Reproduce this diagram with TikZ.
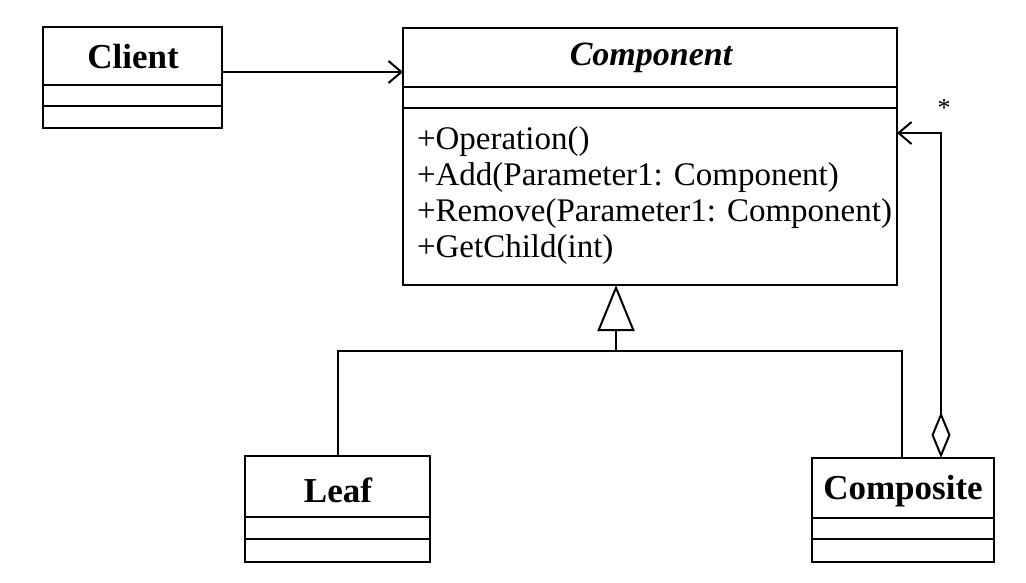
\documentclass[tikz,border=0pt]{standalone}
\usepackage{fontspec}
\setmainfont{Liberation Serif}
\usetikzlibrary{arrows.meta}
\begin{document}
\begin{tikzpicture}[x=1pt,y=-1pt,line width=2pt,
  classbox/.style={draw,inner sep=0pt,outer sep=0pt,anchor=north west},
  ctitle/.style={inner sep=0pt,font=\fontsize{35}{40}\selectfont\bfseries},
  ops/.style={inner sep=0pt,align=left,anchor=base west,font=\fontsize{33}{36}\selectfont},
  assoc/.style={-{Straight Barb[length=13pt,width=22pt,line width=2pt]}},
  gen/.style={-{Triangle[open,length=46pt,width=37pt,line width=2pt]}},
  aggr/.style={{Diamond[open,length=46pt,width=19pt,line width=2pt]}-{Straight Barb[length=13pt,width=22pt,line width=2pt]}}]
\useasboundingbox[fill=white] (0,0) rectangle (1026,582);

% Client
\node[classbox,minimum width=179pt,minimum height=101pt] (client) at (43,27) {};
\node[ctitle] (clientT) at (133,57) {Client};
\draw (client.west |- 0,85) -- (client.east |- 0,85);
\draw (client.west |- 0,106) -- (client.east |- 0,106);

% Component
\node[classbox,minimum width=494pt,minimum height=257pt] (comp) at (403,28) {};
\node[ctitle,font=\fontsize{34}{40}\selectfont\bfseries\itshape] (compT) at (651,58) {Component};
\draw (comp.west |- 0,87) -- (comp.east |- 0,87);
\draw (comp.west |- 0,108) -- (comp.east |- 0,108);
\node[ops] (compOps) at (416,257) {+Operation()\\+Add(Parameter1: Component)\\+Remove(Parameter1: Component)\\+GetChild(int)};

% Leaf
\node[classbox,minimum width=185pt,minimum height=106pt] (leaf) at (245,456) {};
\node[ctitle] (leafT) at (338,490) {Leaf};
\draw (leaf.west |- 0,517) -- (leaf.east |- 0,517);
\draw (leaf.west |- 0,539) -- (leaf.east |- 0,539);

% Composite
\node[classbox,minimum width=182pt,minimum height=104pt] (composite) at (812,458) {};
\node[ctitle] (compositeT) at (903,491) {Composite};
\draw (composite.west |- 0,518) -- (composite.east |- 0,518);
\draw (composite.west |- 0,539) -- (composite.east |- 0,539);

% Client -> Component
\draw[assoc] (client.east |- 0,72) -- (comp.west |- 0,72);

% Generalization
\coordinate (junc) at (616,351);
\draw (leaf.north -| 338,0) |- (junc) -| (composite.north -| 902,0);
\draw[gen] (junc) -- (comp.south -| junc);

% Aggregation
\coordinate (aggbend) at (941,133);
\draw[aggr] (composite.north -| aggbend) -- (aggbend) -- (comp.east |- aggbend);
\node[inner sep=0pt,font=\fontsize{26}{26}\selectfont] (mult) at (944,108) {*};
\end{tikzpicture}
\end{document}
